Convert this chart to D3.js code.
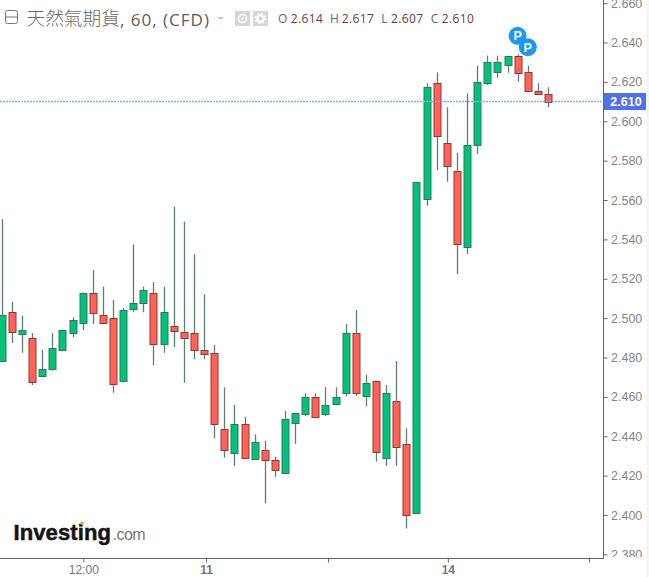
<!DOCTYPE html>
<html><head><meta charset="utf-8">
<script src="https://cdn.jsdelivr.net/npm/d3@7/dist/d3.min.js"></script>
<style>html,body{margin:0;padding:0;background:#fff;overflow:hidden}svg{display:block}</style>
</head><body><svg id="c" width="649" height="577"></svg>
<script>
const opens=[2.4782,2.5030,2.4919,2.4900,2.4707,2.4741,2.4838,2.4926,2.4977,2.5129,2.5016,2.5002,2.4679,2.5050,2.5078,2.5129,2.4870,2.4961,2.4928,2.4923,2.4838,2.4821,2.4438,2.4316,2.4461,2.4286,2.4332,2.4279,2.4217,2.4466,2.4514,2.4601,2.4509,2.4565,2.4616,2.4923,2.4604,2.4681,2.4286,2.4579,2.4360,2.4012,2.5605,2.6193,2.5888,2.5749,2.5360,2.5876,2.6191,2.6247,2.6287,2.6333,2.6249,2.6152,2.6140];
const highs=[2.5503,2.5083,2.5012,2.4924,2.4838,2.4924,2.4940,2.5004,2.5131,2.5244,2.5160,2.5092,2.5051,2.5375,2.5160,2.5183,2.5160,2.5566,2.5490,2.5324,2.5121,2.4863,2.4649,2.4559,2.4499,2.4410,2.4377,2.4296,2.4528,2.4516,2.4618,2.4618,2.4649,2.4649,2.4970,2.5041,2.4711,2.4681,2.4660,2.4782,2.4440,2.5691,2.6193,2.6249,2.6071,2.5840,2.6142,2.6282,2.6333,2.6333,2.6333,2.6340,2.6282,2.6193,2.6172];
const lows=[2.4780,2.4874,2.4824,2.4660,2.4702,2.4733,2.4838,2.4903,2.4940,2.4970,2.4977,2.4621,2.4675,2.5030,2.5030,2.4760,2.4824,2.4852,2.4672,2.4791,2.4791,2.4389,2.4291,2.4250,2.4284,2.4286,2.4059,2.4194,2.4212,2.4362,2.4503,2.4498,2.4504,2.4557,2.4604,2.4604,2.4552,2.4271,2.4250,2.4250,2.3932,2.4012,2.5571,2.5752,2.5693,2.5224,2.5326,2.5834,2.6184,2.6221,2.6247,2.6201,2.6150,2.6139,2.6071];
const closes=[2.5016,2.4928,2.4940,2.4677,2.4741,2.4848,2.4940,2.4990,2.5129,2.5027,2.4977,2.4667,2.5041,2.5078,2.5143,2.4870,2.5030,2.4936,2.4897,2.4836,2.4819,2.4461,2.4330,2.4461,2.4286,2.4371,2.4279,2.4228,2.4489,2.4516,2.4601,2.4499,2.4557,2.4601,2.4923,2.4616,2.4669,2.4318,2.4618,2.4347,2.3998,2.5691,2.6173,2.5922,2.5769,2.5376,2.5878,2.6198,2.6300,2.6300,2.6333,2.6247,2.6150,2.6139,2.6101];
const priceTicks=[2.38,2.40,2.42,2.44,2.46,2.48,2.50,2.52,2.54,2.56,2.58,2.60,2.62,2.64,2.66];
const timeTickSlots=[8.07,20.2,32.25,44.1,58.05];
const timeTickLabels=["12:00","11","","14",""];
const lastPrice=2.610;
const pinSlots=[51,52];
const titleCJK="天然氣期貨";
const titleRest=", 60, (CFD)";
const ohlcKeys=["O","H","L","C"];
const ohlcVals=["2.614","2.617","2.607","2.610"];

const W=649,H=577,axisX=603,axisY=558;
const svg=d3.select("#c");
const x=d3.scaleLinear().domain([0,54]).range([1.7,548]);
const y=d3.scaleLinear().domain([2.64,2.40]).range([42.5,515]);
const FONT="Arial,'Liberation Sans',sans-serif";
const bodyW=7;

const defs=svg.append("defs");
defs.append("clipPath").attr("id","plot").append("rect").attr("width",axisX).attr("height",axisY);
defs.append("clipPath").attr("id","ya").append("rect").attr("x",axisX).attr("width",W-axisX).attr("height",axisY-1);

// right edge strip
svg.append("rect").attr("x",646.5).attr("y",0).attr("width",2.5).attr("height",H).attr("fill","#f4f4f4");

// watermark
const logo=svg.append("g");
logo.append("text").attr("x",13.5).attr("y",539.5).attr("font-family",FONT).attr("font-size",22).attr("font-weight",700).attr("letter-spacing",0.1).attr("fill","#141414").attr("stroke","#141414").attr("stroke-width",0.5).text("Investing");
logo.append("circle").attr("cx",82).attr("cy",523.2).attr("r",1.8).attr("fill","#f0a52e");
logo.append("text").attr("x",112.5).attr("y",539.5).attr("font-family",FONT).attr("font-size",16).attr("fill","#777").attr("letter-spacing",-0.5).text(".com");

// candles
const n=d3.range(opens.length);
const plot=svg.append("g").attr("clip-path","url(#plot)");
const up=i=>closes[i]>=opens[i];
plot.selectAll(".wick").data(n).join("line").attr("class","wick")
 .attr("x1",i=>Math.round(x(i))+.5).attr("x2",i=>Math.round(x(i))+.5)
 .attr("y1",i=>y(highs[i])).attr("y2",i=>y(lows[i]))
 .attr("stroke","#5d8073").attr("stroke-width",1.3);
plot.selectAll(".body").data(n).join("rect").attr("class","body")
 .attr("x",i=>Math.round(x(i))+.5-bodyW/2).attr("width",bodyW)
 .attr("y",i=>Math.round(y(Math.max(opens[i],closes[i])))+.5)
 .attr("height",i=>Math.max(1,Math.round(y(Math.min(opens[i],closes[i]))-y(Math.max(opens[i],closes[i])))))
 .attr("fill",i=>up(i)?"#03c178":"#ff6259")
 .attr("stroke",i=>up(i)?"#2f7a5f":"#8e3a36").attr("stroke-width",1);

// price line
const lastY=Math.floor(y(lastPrice))+.5;
svg.append("line").attr("x1",0).attr("x2",axisX).attr("y1",lastY).attr("y2",lastY)
 .attr("stroke","#86acf5").attr("stroke-width",1.5).attr("stroke-dasharray","2 1");

// pins
const pins=svg.selectAll(".pin").data(pinSlots).join("g").attr("class","pin")
 .attr("transform",i=>`translate(${x(i)},${y(highs[i])-18.5})`);
pins.append("circle").attr("r",9).attr("fill","#1e96f3");
pins.append("text").attr("text-anchor","middle").attr("y",4.5).attr("font-family",FONT).attr("font-size",12.5).attr("font-weight",700).attr("fill","#fff").text("P");

// axes
const yAxis=d3.axisRight(y).tickValues(priceTicks).tickFormat(d3.format(".3f")).tickSize(4).tickPadding(3.5);
const yg=svg.append("g").attr("clip-path","url(#ya)").append("g").attr("transform",`translate(${axisX+.5},0)`).call(yAxis);
yg.select(".domain").remove();
yg.selectAll("line").attr("stroke","#666");
yg.selectAll("text").attr("font-family",FONT).attr("font-size",12.5).attr("fill","#858585");
svg.append("line").attr("x1",axisX+.5).attr("x2",axisX+.5).attr("y1",0).attr("y2",axisY+1).attr("stroke","#666").attr("stroke-width",1);

const xAxis=d3.axisBottom(x).tickValues(timeTickSlots).tickFormat((d,i)=>timeTickLabels[i]).tickSize(4).tickPadding(3.2);
const xg=svg.append("g").attr("transform",`translate(0,${axisY+.5})`).call(xAxis);
xg.select(".domain").remove();
xg.selectAll("line").attr("stroke","#666");
xg.selectAll("text").attr("font-family",FONT).attr("font-size",12).attr("fill","#777").attr("font-weight",(d,i)=>i==0?400:700);
svg.append("line").attr("x1",0).attr("x2",axisX+1).attr("y1",axisY+.5).attr("y2",axisY+.5).attr("stroke","#666");

// last price label
svg.append("rect").attr("x",axisX+1).attr("y",93).attr("width",646-axisX-1).attr("height",17).attr("fill","#4f73e3");
svg.append("text").attr("x",626).attr("y",106).attr("text-anchor","middle").attr("font-family",FONT).attr("font-size",12.5).attr("font-weight",700).attr("fill","#fff").text(d3.format(".3f")(lastPrice));

// header
svg.append("rect").attr("x",5.5).attr("y",10.5).attr("width",12).attr("height",13).attr("rx",2).attr("fill","none").attr("stroke","#777");
svg.append("line").attr("x1",5.5).attr("x2",17.5).attr("y1",17).attr("y2",17).attr("stroke","#777");
svg.append("text").attr("x",26.5).attr("y",25).attr("font-family","'Noto Sans CJK TC',sans-serif").attr("font-size",18.7).attr("font-weight",300).attr("fill","#6a6a6a").text(titleCJK);
svg.append("text").attr("x",120).attr("y",26).attr("font-family","'Open Sans',sans-serif").attr("font-size",17).attr("letter-spacing",1).attr("fill","#5c5c5c").text(titleRest);
svg.append("path").attr("d",d3.line()([[217,17],[224,17],[220.5,20]])+"Z").attr("fill","#c9c9c9");
[235,253].forEach((px,k)=>{
 svg.append("rect").attr("x",px).attr("y",11).attr("width",15).attr("height",15).attr("fill","#d6d6d6");
 if(k==0){
  svg.append("circle").attr("cx",px+7.5).attr("cy",18.5).attr("r",4).attr("fill","none").attr("stroke","#fff").attr("stroke-width",1.5);
  svg.append("circle").attr("cx",px+7.5).attr("cy",18.5).attr("r",1.3).attr("fill","#fff");
 }else{
  svg.append("circle").attr("cx",px+7.5).attr("cy",18.5).attr("r",3.2).attr("fill","none").attr("stroke","#fff").attr("stroke-width",2);
  svg.append("circle").attr("cx",px+7.5).attr("cy",18.5).attr("r",5).attr("fill","none").attr("stroke","#fff").attr("stroke-width",1.6).attr("stroke-dasharray","2 1.93");
 }
});
const keyX=[278,330,381.3,430.7], valX=[290.7,341.7,391,441.7];
ohlcKeys.forEach((k,i)=>{
 svg.append("text").attr("x",keyX[i]).attr("y",23).attr("font-family","'Open Sans',sans-serif").attr("font-size",12).attr("fill","#666").text(k);
 svg.append("text").attr("x",valX[i]).attr("y",23).attr("font-family","'Open Sans',sans-serif").attr("font-size",12).attr("letter-spacing",.4).attr("fill","#6f3a3a").text(ohlcVals[i]);
});
</script></body></html>
